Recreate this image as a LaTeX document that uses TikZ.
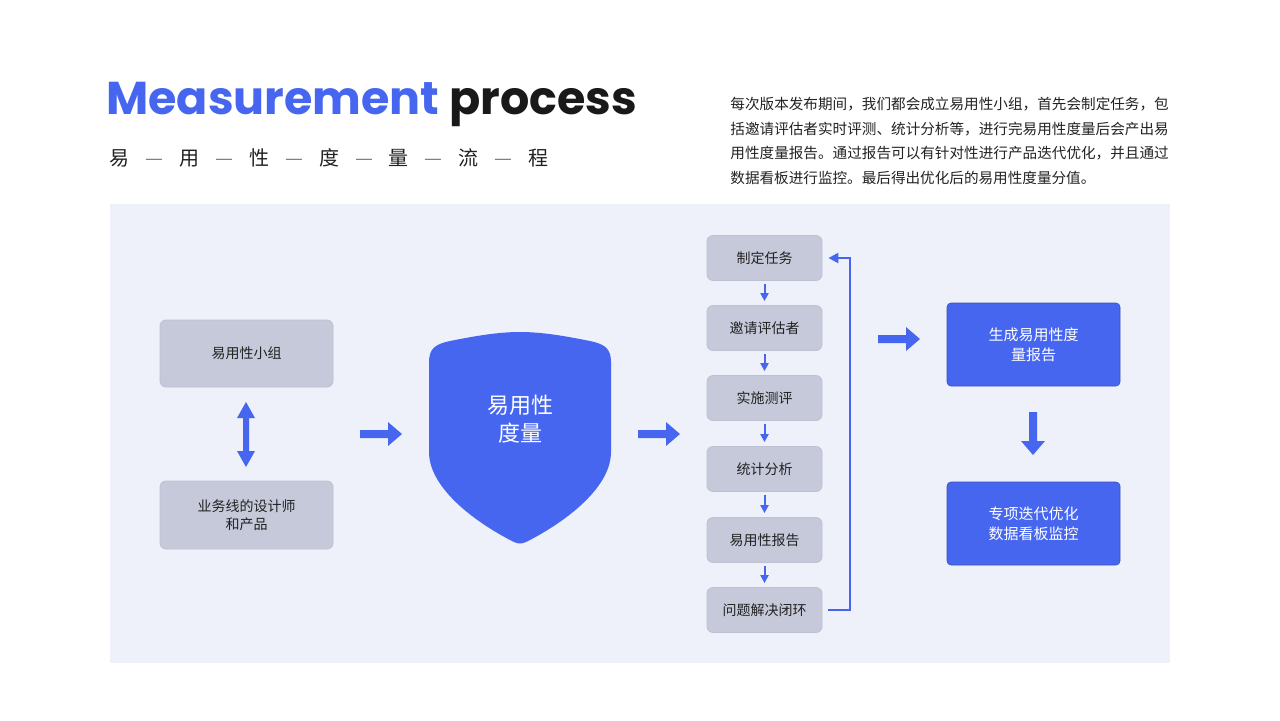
\documentclass[tikz,border=0pt]{standalone}
\usepackage{fontspec}
\setmainfont{Noto Sans CJK SC}
\newfontfamily\popp{Poppins}
\XeTeXlinebreaklocale "zh"
\XeTeXlinebreakskip=0pt plus 1pt
\usetikzlibrary{arrows.meta}
\definecolor{bl}{HTML}{4766F0}
\definecolor{panel}{HTML}{EEF1F9}
\definecolor{gb}{HTML}{C5C9DA}
\definecolor{tx}{HTML}{222222}
\begin{document}
\begin{tikzpicture}[x=0.5pt,y=-0.5pt,
 gray/.style={fill=gb,draw=gb!80!black!20!gb,rounded corners=3pt,text=tx,font=\fontsize{7}{9}\selectfont,align=center,inner sep=0},
 blue/.style={fill=bl,draw=bl!80!black,line width=0.3pt,rounded corners=2pt,text=white,font=\fontsize{7.5}{10}\selectfont,align=center,inner sep=0},
 small/.style={draw=bl,line width=1pt,-{Triangle[length=4pt,width=4pt]}},
 fat/.style={fill=bl}]
\useasboundingbox (0,0) rectangle (1280,720);
\fill[white] (0,0) rectangle (1280,720);
\node[anchor=base west,inner sep=0,font=\popp\bfseries\fontsize{23}{23}\selectfont] (title) at (106,114) {\textcolor{bl}{Measurement} \textcolor{black!90}{process}};
\node[anchor=west,inner sep=0,font=\fontsize{10}{10}\selectfont,text=tx] (sub) at (109,158) {易\hspace{8pt}\textcolor{gray}{—}\hspace{8pt}用\hspace{8pt}\textcolor{gray}{—}\hspace{8pt}性\hspace{8pt}\textcolor{gray}{—}\hspace{8pt}度\hspace{8pt}\textcolor{gray}{—}\hspace{8pt}量\hspace{8pt}\textcolor{gray}{—}\hspace{8pt}流\hspace{8pt}\textcolor{gray}{—}\hspace{8pt}程};
\node[anchor=north west,inner sep=0,text width=219.2pt,align=justify,font=\fontsize{7.3}{12.3}\selectfont,text=tx] (para) at (730,97) {每次版本发布期间，我们都会成立易用性小组，首先会制定任务，包括邀请评估者实时评测、统计分析等，进行完易用性度量后会产出易用性度量报告。通过报告可以有针对性进行产品迭代优化，并且通过数据看板进行监控。最后得出优化后的易用性度量分值。};
\fill[panel] (110,204) rectangle (1170,663);
% left
\node[gray,minimum width=86.5pt,minimum height=33.5pt] (g1) at (246.5,353.5) {易用性小组};
\node[gray,minimum width=86.5pt,minimum height=34pt] (g2) at (246.5,515) {业务线的设计师\\和产品};
\fill[bl] (243,418) -- (237,418) -- (246,402) -- (255,418) -- (249,418) -- (249,451) -- (255,451) -- (246,467) -- (237,451) -- (243,451) -- cycle;
\fill[bl] (360,430) -- (388,430) -- (388,422) -- (402,434) -- (388,446) -- (388,438) -- (360,438) -- cycle;
% shield
\fill[bl] (429,362) .. controls (429,348) and (436,344) .. (450,341) .. controls (480,335) and (500,332) .. (520,332) .. controls (540,332) and (560,335) .. (590,341) .. controls (604,344) and (611,348) .. (611,362) -- (611,452) .. controls (611,490) and (560,525) .. (526,542) .. controls (522,544) and (518,544) .. (514,542) .. controls (480,525) and (429,490) .. (429,452) -- cycle;
\node[text=white,font=\fontsize{11}{14}\selectfont,align=center] (sh) at (520,419) {易用性\\度量};
\fill[bl] (638,430) -- (666,430) -- (666,422) -- (680,434) -- (666,446) -- (666,438) -- (638,438) -- cycle;
% column
\foreach \n/\y/\t in {c1/258/制定任务,c2/328/邀请评估者,c3/398/实施测评,c4/469/统计分析,c5/540/易用性报告,c6/610/问题解决闭环}
  \node[gray,minimum width=57.5pt,minimum height=22.5pt] (\n) at (764.5,\y) {\t};
\foreach \a/\b in {c1/c2,c2/c3,c3/c4,c4/c5,c5/c6}
  \draw[small] ([yshift=-1.5pt]\a.south) -- ([yshift=2pt]\b.north);
\coordinate (r1) at (850,610);
\coordinate (r2) at (850,258);
\draw[draw=bl,line width=1.2pt,-{Triangle[length=5pt,width=5pt]}] (c6.east) ++(3pt,0) -- (r1) -- (r2) -- ([xshift=3pt]c1.east);
\fill[bl] (878,335) -- (906,335) -- (906,327) -- (920,339) -- (906,351) -- (906,343) -- (878,343) -- cycle;
% right
\node[blue,minimum width=86.5pt,minimum height=41.5pt] (b1) at (1033.5,344.5) {生成易用性度\\量报告};
\node[blue,minimum width=86.5pt,minimum height=41.5pt] (b2) at (1033.5,523.5) {专项迭代优化\\数据看板监控};
\fill[bl] (1029,412) -- (1037,412) -- (1037,441) -- (1045,441) -- (1033,455) -- (1021,441) -- (1029,441) -- cycle;
\end{tikzpicture}
\end{document}
